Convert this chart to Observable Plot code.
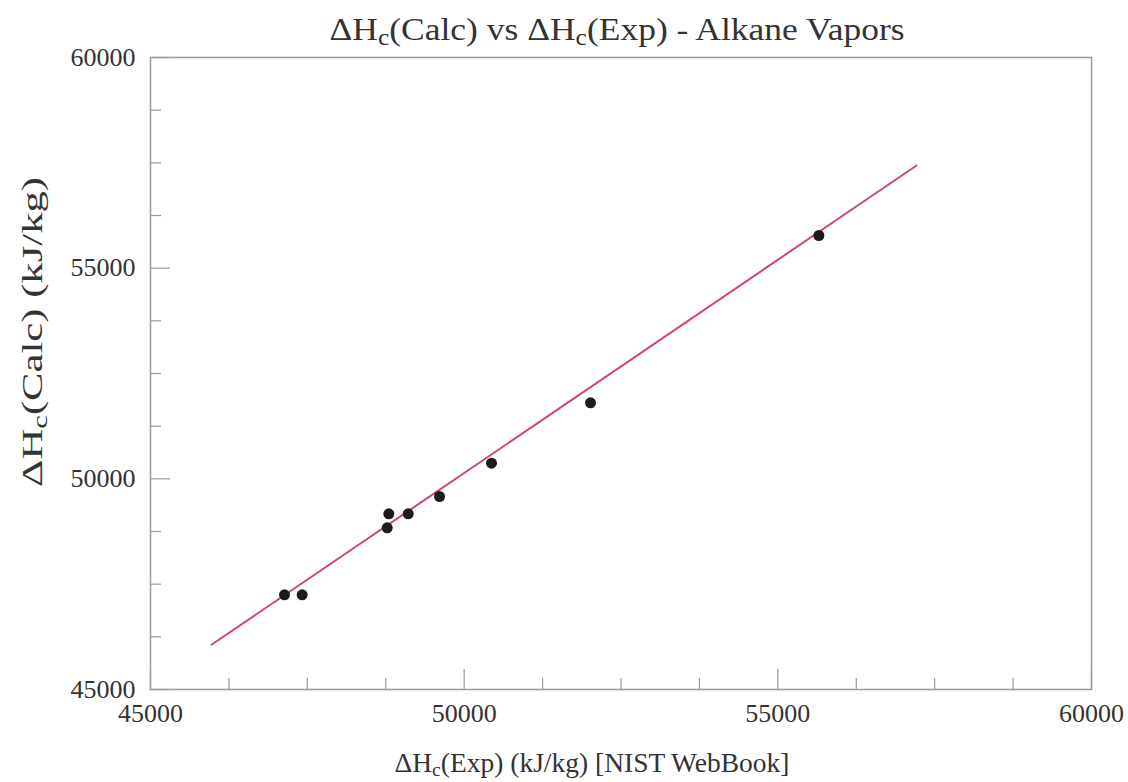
<!DOCTYPE html>
<html><head><meta charset="utf-8">
<script src="https://cdn.jsdelivr.net/npm/d3@7"></script>
<script src="https://cdn.jsdelivr.net/npm/@observablehq/plot@0.6"></script>
<style>body{margin:0;background:#fff}</style></head>
<body><div id="chart"></div>
<script>
// Data
const expValues  = [47136, 47418, 48773, 48799, 49108, 49607, 50436, 52014, 55654];
const calcValues = [47247, 47247, 48838, 49170, 49170, 49581, 50371, 51804, 55775];
const fitX = [45972, 57211];
const fitY = [46061, 57437];
const majorTicks = [45000, 50000, 55000, 60000];
const minorTicks = [46250, 47500, 48750, 51250, 52500, 53750, 56250, 57500, 58750];

const points = expValues.map((x, i) => ({x, y: calcValues[i]}));
const fit = fitX.map((x, i) => ({x, y: fitY[i]}));

const font = "'Liberation Serif', 'Times New Roman', serif";
const chart = Plot.plot({
  width: 1128, height: 782,
  marginLeft: 150, marginRight: 37, marginTop: 57, marginBottom: 93,
  style: {fontFamily: font, fontSize: "26px", color: "#333", background: "#fff", overflow: "visible"},
  x: {domain: [45000, 60000], label: null},
  y: {domain: [45000, 60000], label: null},
  marks: [
    Plot.frame({stroke: "#999", strokeWidth: 1.5}),
    Plot.axisX(minorTicks, {tickSize: -11, tickFormat: () => "", stroke: "#999", strokeWidth: 1.2}),
    Plot.axisY(minorTicks, {tickSize: -11, tickFormat: () => "", stroke: "#999", strokeWidth: 1.2}),
    Plot.axisX(majorTicks, {tickSize: -20, tickFormat: () => "", stroke: "#999", strokeWidth: 1.2}),
    Plot.axisY(majorTicks, {tickSize: -20, tickFormat: () => "", stroke: "#999", strokeWidth: 1.2}),
    Plot.axisX(majorTicks, {tickSize: 0, tickPadding: 14, tickFormat: d => String(d), fill: "#333", fontSize: 26}),
    Plot.axisY(majorTicks, {tickSize: 0, tickPadding: 15, tickFormat: d => String(d), fill: "#333", fontSize: 26}),
    Plot.line(fit, {x: "x", y: "y", stroke: "#d04a68", strokeWidth: 2}),
    Plot.dot(points, {x: "x", y: "y", r: 5.5, fill: "#1c1c1c", stroke: "none"})
  ]
});
document.getElementById("chart").appendChild(chart);

const svg = d3.select(chart);
function subText(g, parts) {
  let lowered = false;
  parts.forEach(([t, sub]) => {
    const ts = g.append("tspan").text(t);
    if (sub) { ts.attr("dy", "0.22em").attr("font-size", "0.72em"); lowered = true; }
    else if (lowered) { ts.attr("dy", "-0.16em"); lowered = false; }
  });
}
// Title
const title = svg.append("text").attr("x", 617).attr("y", 40)
  .attr("text-anchor", "middle").attr("font-family", font).attr("font-size", 32).attr("fill", "#333")
  .attr("textLength", 575).attr("lengthAdjust", "spacingAndGlyphs");
subText(title, [["ΔH"], ["c", true], ["(Calc) vs ΔH"], ["c", true], ["(Exp) - Alkane Vapors"]]);
// X label
const xl = svg.append("text").attr("x", 592).attr("y", 772)
  .attr("text-anchor", "middle").attr("font-family", font).attr("font-size", 27).attr("fill", "#333")
  .attr("textLength", 395).attr("lengthAdjust", "spacingAndGlyphs");
subText(xl, [["ΔH"], ["c", true], ["(Exp) (kJ/kg) [NIST WebBook]"]]);
// Y label
const yl = svg.append("text").attr("transform", "translate(42,332) rotate(-90)")
  .attr("text-anchor", "middle").attr("font-family", font).attr("font-size", 30).attr("fill", "#333")
  .attr("textLength", 310).attr("lengthAdjust", "spacingAndGlyphs");
subText(yl, [["ΔH"], ["c", true], ["(Calc) (kJ/kg)"]]);
</script></body></html>
